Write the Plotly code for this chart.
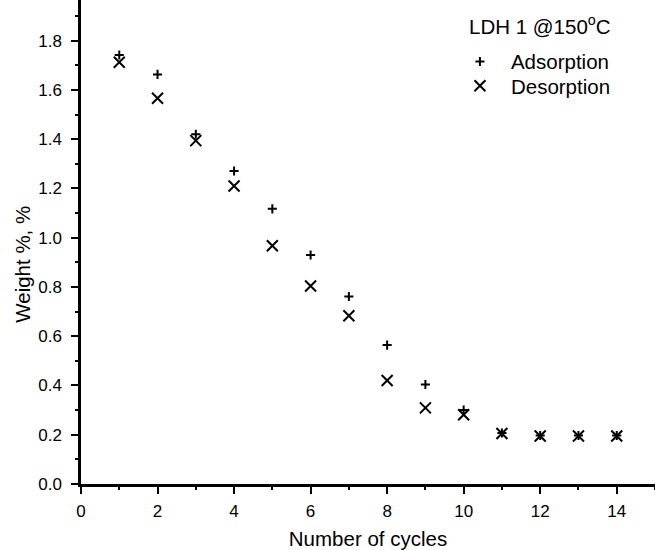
import plotly.graph_objects as go

cycles = [1, 2, 3, 4, 5, 6, 7, 8, 9, 10, 11, 12, 13, 14]
adsorption = [1.742, 1.663, 1.420, 1.271, 1.117, 0.930, 0.761, 0.564, 0.404, 0.300, 0.207, 0.197, 0.197, 0.197]
desorption = [1.712, 1.566, 1.394, 1.210, 0.967, 0.804, 0.683, 0.420, 0.309, 0.281, 0.205, 0.195, 0.195, 0.195]

x_ticks = [0, 2, 4, 6, 8, 10, 12, 14]
y_ticks = [0.0, 0.2, 0.4, 0.6, 0.8, 1.0, 1.2, 1.4, 1.6, 1.8]

FONT = "Liberation Sans, Arial, sans-serif"
TITLE_SIZE = 20.5
TICK_SIZE = 17

fig = go.Figure()
fig.add_trace(go.Scatter(
    x=cycles, y=adsorption, mode="markers", name="Adsorption",
    legend="legend", showlegend=True,
    marker=dict(symbol="cross-thin", size=6.5, color="black",
                line=dict(width=2, color="black")),
))
fig.add_trace(go.Scatter(
    x=cycles, y=desorption, mode="markers", name="Desorption",
    legend="legend2", showlegend=True,
    marker=dict(symbol="x-thin", size=11, color="black",
                line=dict(width=2, color="black")),
))

axis_common = dict(
    showline=True, linecolor="black", linewidth=2.5,
    ticks="outside", ticklen=7, tickwidth=2, tickcolor="black",
    showgrid=False, zeroline=False,
    tickfont=dict(family=FONT, size=TICK_SIZE, color="black"),
)

fig.update_xaxes(
    range=[0, 15], tickvals=x_ticks, ticklabelstandoff=3,
    minor=dict(ticks="outside", ticklen=3.5, tickwidth=2, tickcolor="black", dtick=1, tick0=0),
    title=dict(text="Number of cycles", font=dict(family=FONT, size=TITLE_SIZE, color="black"), standoff=12),
    **axis_common,
)
fig.update_yaxes(
    range=[0, 1.965], tickvals=y_ticks, tickformat=".1f", ticklabelstandoff=6,
    minor=dict(ticks="outside", ticklen=3.5, tickwidth=2, tickcolor="black", dtick=0.1, tick0=0),
    **axis_common,
)

# vertical axis title, set a little below the middle of the axis
fig.add_annotation(
    text="Weight %, %", textangle=-90, showarrow=False,
    xref="paper", yref="paper", x=0, y=0.453, xshift=-58,
    xanchor="center", yanchor="middle",
    font=dict(family=FONT, size=TITLE_SIZE, color="black"),
)

# legend heading
fig.add_annotation(
    text="LDH 1 @150<sup>o</sup>C", showarrow=False,
    xref="paper", yref="paper", x=0.673, y=0.949,
    xanchor="left", yanchor="middle",
    font=dict(family=FONT, size=TITLE_SIZE, color="black"),
)

legend_common = dict(
    xanchor="left", yanchor="middle", itemwidth=52,
    bgcolor="rgba(0,0,0,0)", borderwidth=0, visible=True,
    font=dict(family=FONT, size=TITLE_SIZE, color="black"),
)

fig.update_layout(
    width=655, height=550,
    margin=dict(l=81, r=0, t=0, b=66),
    plot_bgcolor="white", paper_bgcolor="white",
    font=dict(family=FONT, color="black"),
    showlegend=True,
    legend=dict(x=0.641, y=0.8726, **legend_common),
    legend2=dict(x=0.641, y=0.8224, **legend_common),
)

fig.write_html("out.html")
